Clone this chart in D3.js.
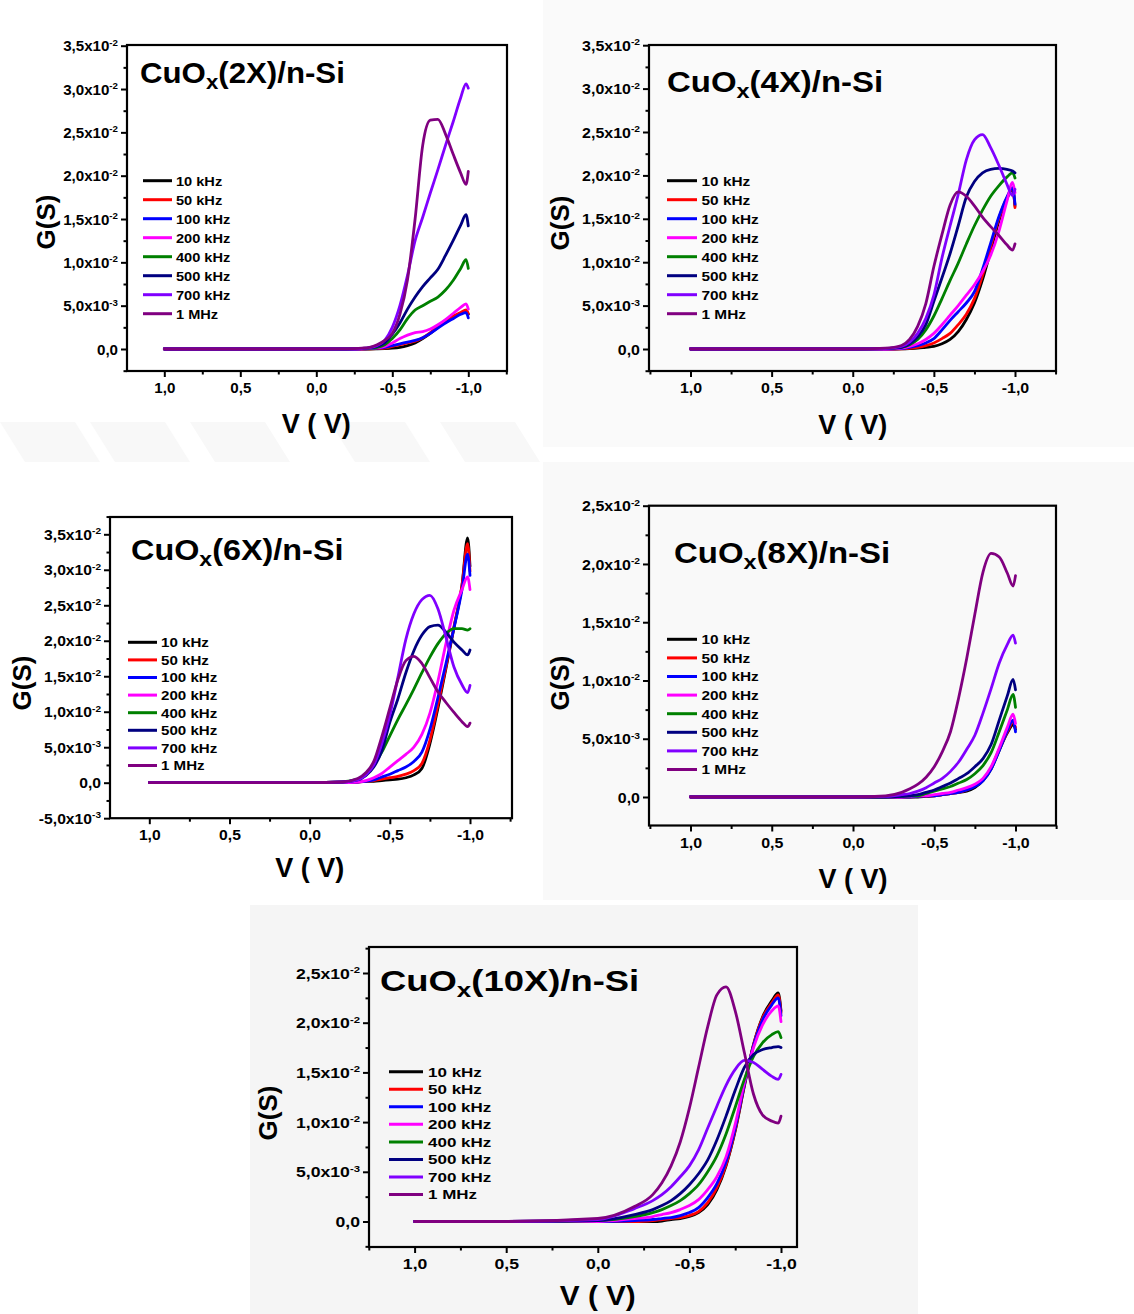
<!DOCTYPE html>
<html>
<head>
<meta charset="utf-8">
<script src="https://cdn.jsdelivr.net/npm/d3@7"></script>
<style>
  html, body { margin: 0; padding: 0; background: #ffffff; }
  svg { display: block; }
  text { font-family: "Liberation Sans", Arial, sans-serif; font-weight: bold; fill: #000; }
</style>
</head>
<body>
<svg id="chart" width="1134" height="1314"></svg>
<script>
// ---------------- DATA ----------------
const voltage = [1.0, 0.5, 0.0, -0.2, -0.3, -0.35, -0.4, -0.45, -0.5, -0.55, -0.6, -0.65, -0.7, -0.75, -0.8, -0.85, -0.9, -0.95, -0.985, -1.0];
const frequencies = ["10 kHz", "50 kHz", "100 kHz", "200 kHz", "400 kHz", "500 kHz", "700 kHz", "1 MHz"];
const seriesColors = ["#000000", "#ff0000", "#0000ff", "#ff00ff", "#008000", "#000080", "#8000ff", "#800080"];
const sampleNames = ["CuO|x|(2X)/n-Si", "CuO|x|(4X)/n-Si", "CuO|x|(6X)/n-Si", "CuO|x|(8X)/n-Si", "CuO|x|(10X)/n-Si"];
const xTickValues = [1.0, 0.5, 0.0, -0.5, -1.0];
const xTickLabels = ["1,0", "0,5", "0,0", "-0,5", "-1,0"];
const xMinorTicks = [1.25, 0.75, 0.25, -0.25, -0.75, -1.25];

// G (S) for each frequency, in the order of `frequencies`
const g2X = [
  [0,0,0,0,0,0,0.00002,0.00005,0.0001,0.0002,0.0004,0.0007,0.0012,0.0018,0.0025,0.0032,0.0037,0.0041,0.0044,0.0040],
  [0,0,0,0,0,0.00002,0.00005,0.0001,0.0003,0.0005,0.0007,0.0009,0.0013,0.0019,0.0026,0.0033,0.0038,0.0042,0.0045,0.0041],
  [0,0,0,0,0.00002,0.00005,0.0001,0.0002,0.0004,0.0006,0.0008,0.0010,0.0013,0.0018,0.0024,0.0030,0.0035,0.0040,0.0042,0.0036],
  [0,0,0,0,0.00003,0.00008,0.00015,0.0003,0.0007,0.0012,0.0016,0.0019,0.0020,0.0023,0.0028,0.0034,0.0041,0.0048,0.0052,0.0046],
  [0,0,0,0,0.00005,0.0001,0.0002,0.0005,0.0012,0.0022,0.0035,0.0045,0.0050,0.0055,0.0060,0.0068,0.0079,0.0093,0.0103,0.0093],
  [0,0,0,0,0.00005,0.00012,0.0003,0.0007,0.0017,0.0030,0.0046,0.0060,0.0072,0.0082,0.0092,0.0108,0.0125,0.0143,0.0155,0.0142],
  [0,0,0,0,0.00006,0.00015,0.0004,0.0010,0.0025,0.0050,0.0085,0.0125,0.0152,0.0180,0.0207,0.0235,0.0262,0.0290,0.0306,0.0301],
  [0,0,0,0.00002,0.0001,0.0002,0.0005,0.0010,0.0018,0.0040,0.0080,0.0150,0.0235,0.0264,0.0265,0.0248,0.0225,0.0203,0.0190,0.0205]
];
const g4X = [
  [0,0,0,0,0.00002,0.00005,0.0001,0.0002,0.0003,0.0006,0.0011,0.0020,0.0034,0.0053,0.0080,0.0113,0.0147,0.0173,0.0184,0.0165],
  [0,0,0,0,0.00003,0.00008,0.0002,0.0004,0.0007,0.0012,0.0018,0.0028,0.0040,0.0058,0.0085,0.0118,0.0150,0.0174,0.0185,0.0163],
  [0,0,0,0,0.00005,0.0002,0.0004,0.0007,0.0012,0.0022,0.0033,0.0043,0.0053,0.0066,0.0092,0.0122,0.0152,0.0175,0.0186,0.0167],
  [0,0,0,0,0.0001,0.0003,0.0006,0.0011,0.0018,0.0028,0.0039,0.0050,0.0062,0.0074,0.0089,0.0108,0.0135,0.0170,0.0192,0.0180],
  [0,0,0,0.00005,0.0002,0.0005,0.0011,0.0022,0.0038,0.0058,0.0079,0.0099,0.0121,0.0142,0.0160,0.0176,0.0188,0.0198,0.0203,0.0197],
  [0,0,0,0.00005,0.0002,0.0006,0.0014,0.0028,0.0055,0.0082,0.0110,0.0142,0.0175,0.0193,0.0203,0.0207,0.0208,0.0207,0.0205,0.0203],
  [0,0,0,0.00005,0.0003,0.0008,0.0018,0.0035,0.0062,0.0105,0.0142,0.0178,0.0218,0.0241,0.0247,0.0232,0.0212,0.0190,0.0177,0.0184],
  [0,0,0,0.0001,0.0004,0.0011,0.0026,0.0052,0.0095,0.0132,0.0166,0.0181,0.0176,0.0165,0.0152,0.0141,0.0131,0.0120,0.0114,0.0121]
];
const g6X = [
  [0,0,0,0,0.0001,0.0002,0.0002,0.0003,0.0004,0.0005,0.0007,0.0011,0.0020,0.0055,0.0105,0.0161,0.0218,0.0278,0.0345,0.0305],
  [0,0,0,0,0.0001,0.0002,0.0003,0.0005,0.0007,0.0009,0.0012,0.0017,0.0027,0.0060,0.0110,0.0163,0.0220,0.0278,0.0337,0.0298],
  [0,0,0,0,0.0001,0.0002,0.0004,0.0008,0.0012,0.0017,0.0022,0.0030,0.0043,0.0075,0.0120,0.0168,0.0218,0.0272,0.0322,0.0292],
  [0,0,0,0,0.0001,0.0003,0.0007,0.0013,0.0022,0.0031,0.0040,0.0050,0.0068,0.0098,0.0143,0.0196,0.0243,0.0272,0.0290,0.0272],
  [0,0,0,0.0001,0.0005,0.0012,0.0025,0.0043,0.0066,0.0089,0.0110,0.0132,0.0155,0.0177,0.0196,0.0210,0.0217,0.0217,0.0215,0.0217],
  [0,0,0,0.0001,0.0004,0.0010,0.0022,0.0045,0.0085,0.0118,0.0155,0.0186,0.0208,0.0220,0.0222,0.0212,0.0198,0.0187,0.0180,0.0187],
  [0,0,0,0.0001,0.0004,0.0011,0.0025,0.0055,0.0095,0.0148,0.0202,0.0238,0.0258,0.0264,0.0245,0.0205,0.0163,0.0138,0.0127,0.0137],
  [0,0,0,0.0001,0.0006,0.0014,0.0030,0.0065,0.0105,0.0145,0.0172,0.0178,0.0168,0.0148,0.0128,0.0113,0.0099,0.0086,0.0079,0.0084]
];
const g8X = [
  [0,0,0,0,0,0,0,0.00005,0.0001,0.0002,0.0003,0.0004,0.0005,0.0008,0.0014,0.0024,0.0040,0.0055,0.0062,0.0058],
  [0,0,0,0,0,0,0.00005,0.0001,0.0001,0.0002,0.0003,0.0004,0.0006,0.0010,0.0015,0.0025,0.0041,0.0056,0.0064,0.0060],
  [0,0,0,0,0,0,0.00005,0.0001,0.0001,0.0002,0.0003,0.0004,0.0006,0.0009,0.0014,0.0024,0.0040,0.0057,0.0066,0.0056],
  [0,0,0,0,0,0.00005,0.0001,0.0001,0.0002,0.0003,0.0004,0.0006,0.0008,0.0011,0.0016,0.0026,0.0042,0.0060,0.0071,0.0063],
  [0,0,0,0,0.00005,0.0001,0.0001,0.0003,0.0005,0.0007,0.0009,0.0012,0.0015,0.0020,0.0027,0.0038,0.0056,0.0075,0.0088,0.0077],
  [0,0,0,0,0.00005,0.0001,0.0002,0.0004,0.0006,0.0009,0.0012,0.0016,0.0020,0.0026,0.0033,0.0045,0.0066,0.0087,0.0101,0.0092],
  [0,0,0,0.00005,0.0002,0.0003,0.0005,0.0008,0.0012,0.0016,0.0022,0.0030,0.0041,0.0053,0.0072,0.0093,0.0115,0.0131,0.0139,0.0132],
  [0,0,0,0.0001,0.0004,0.0007,0.0011,0.0017,0.0026,0.0039,0.0056,0.0085,0.0119,0.0157,0.0193,0.0209,0.0206,0.0192,0.0181,0.0190]
];
const g10X = [
  [0,0,0,0,0,0.00005,0.0002,0.0003,0.0005,0.0009,0.0017,0.0032,0.0056,0.0091,0.0136,0.0178,0.0206,0.0222,0.0230,0.0212],
  [0,0,0,0,0.0001,0.0002,0.0003,0.0004,0.0006,0.0010,0.0019,0.0034,0.0057,0.0092,0.0137,0.0178,0.0205,0.0220,0.0228,0.0210],
  [0,0,0,0.0001,0.0002,0.0003,0.0004,0.0006,0.0009,0.0014,0.0024,0.0038,0.0060,0.0094,0.0138,0.0177,0.0203,0.0218,0.0225,0.0207],
  [0,0,0,0.0003,0.0005,0.0007,0.0009,0.0012,0.0016,0.0022,0.0032,0.0045,0.0065,0.0098,0.0140,0.0175,0.0198,0.0212,0.0217,0.0201],
  [0,0,0.0001,0.0005,0.0009,0.0012,0.0016,0.0021,0.0028,0.0037,0.0050,0.0066,0.0088,0.0115,0.0143,0.0166,0.0180,0.0188,0.0191,0.0185],
  [0,0,0.0001,0.0007,0.0012,0.0016,0.0021,0.0028,0.0037,0.0048,0.0062,0.0082,0.0106,0.0132,0.0155,0.0168,0.0173,0.0175,0.0176,0.0175],
  [0,0,0.0002,0.0013,0.0021,0.0027,0.0035,0.0045,0.0056,0.0072,0.0094,0.0116,0.0137,0.0153,0.0162,0.0160,0.0153,0.0146,0.0143,0.0148],
  [0,0,0.0003,0.0015,0.0027,0.0039,0.0056,0.0080,0.0114,0.0155,0.0196,0.0228,0.0236,0.0212,0.0170,0.0128,0.0107,0.0101,0.0099,0.0106]
];

// ---------------- LAYOUT ----------------
const layouts = [
  { data: g2X, bg: null, xPix: [164.3, 468.3], yRef: [0.035, 45.7], y0: 349, frame: [127, 507, 45, 371],
    yMajor: [0, 0.035], fx: 1.08, title: [140, 82.5], legend: [143, 172, 176, 180.7, 19.0], gs: [46, 222], vv: 433 },
  { data: g4X, bg: [543, 0, 591, 447, "#fafafa"], xPix: [690.5, 1015], yRef: [0.035, 45.2], y0: 349, frame: [649, 1056, 45, 371],
    yMajor: [0, 0.035], fx: 1.14, title: [667, 91.5], legend: [667, 697, 701.5, 180.7, 19.0], gs: [560, 223], vv: 434 },
  { data: g6X, bg: null, xPix: [149.3, 470], yRef: [0.035, 534.3], y0: 782.7, frame: [110, 512, 517, 818.2],
    yMajor: [-0.005, 0.035], fx: 1.12, title: [131, 560], legend: [128, 157, 161, 642.3, 17.6], gs: [22, 683], vv: 877 },
  { data: g8X, bg: [543, 462, 591, 438, "#f9f9f9"], xPix: [690.5, 1015.5], yRef: [0.025, 505.7], y0: 797, frame: [649, 1056, 505.7, 825.5],
    yMajor: [0, 0.025], fx: 1.14, title: [674, 562.5], legend: [667, 697, 701.5, 639.3, 18.6], gs: [560, 683], vv: 888 },
  { data: g10X, bg: [250, 905, 668, 409, "#f5f5f5"], xPix: [414.6, 781], yRef: [0.025, 973], y0: 1221.5, frame: [369, 797, 947, 1247],
    yMajor: [0, 0.025], fx: 1.26, title: [380, 990.5], legend: [389, 423, 428, 1071.7, 17.55], gs: [268, 1113], vv: 1305 }
];

const svg = d3.select("#chart");

// very faint watermark bands
const wm = svg.append("g").attr("fill", "#f8f8f8");
[0, 90, 190, 330, 440].forEach(x0 => {
  wm.append("path").attr("d", `M${x0},422 L${x0 + 75},422 L${x0 + 100},462 L${x0 + 25},462 Z`);
});

function yLabelParts(v) {
  const r = Math.round(v * 1e6) / 1e6;
  if (r === 0) return ["0,0", null];
  const e = Math.floor(Math.log10(Math.abs(r)) + 1e-9);
  const m = (r / Math.pow(10, e)).toFixed(1).replace(".", ",");
  return [m + "x10", String(e)];
}

layouts.forEach((L, pi) => {
  if (L.bg) svg.append("rect").attr("x", L.bg[0]).attr("y", L.bg[1]).attr("width", L.bg[2]).attr("height", L.bg[3]).attr("fill", L.bg[4]);
  const g = svg.append("g");
  const [fl, fr, ft, fb] = L.frame;
  const x = d3.scaleLinear().domain([1, -1]).range(L.xPix);
  const y = d3.scaleLinear().domain([0, L.yRef[0]]).range([L.y0, L.yRef[1]]);

  // y axis
  const yMaj = d3.range(Math.round(L.yMajor[0] / 0.005), Math.round(L.yMajor[1] / 0.005) + 1).map(k => k * 0.005);
  const yMin = [];
  for (let k = -4; k <= 20; k++) {
    const v = k * 0.0025;
    const p = y(v);
    if (k % 2 !== 0 && p >= ft - 0.5 && p <= fb + 0.5) yMin.push(v);
  }
  const yAxisG = g.append("g").attr("transform", `translate(${fl},0)`)
    .call(d3.axisLeft(y).tickValues(yMaj).tickSize(6).tickFormat(""));
  g.append("g").attr("transform", `translate(${fl},0)`)
    .call(d3.axisLeft(y).tickValues(yMin).tickSize(3.5).tickFormat(""));
  yAxisG.selectAll(".tick").each(function (v) {
    const parts = yLabelParts(v);
    const t = d3.select(this).append("text")
      .attr("text-anchor", "end")
      .attr("transform", `translate(-9,0) scale(${L.fx},1)`)
      .attr("dy", "0.36em")
      .style("font-size", "14px");
    t.append("tspan").text(parts[0]);
    if (parts[1]) t.append("tspan").attr("dy", "-0.62em").style("font-size", "9px").text(parts[1]);
  });

  // x axis
  const xMinVis = xMinorTicks.filter(v => x(v) >= fl - 0.5 && x(v) <= fr + 0.5);
  const xAxisG = g.append("g").attr("transform", `translate(0,${fb})`)
    .call(d3.axisBottom(x).tickValues(xTickValues).tickSize(6).tickFormat(""));
  g.append("g").attr("transform", `translate(0,${fb})`)
    .call(d3.axisBottom(x).tickValues(xMinVis).tickSize(3.5).tickFormat(""));
  xAxisG.selectAll(".tick").each(function (v, i) {
    d3.select(this).append("text")
      .attr("text-anchor", "middle")
      .attr("transform", `translate(0,22) scale(${L.fx},1)`)
      .style("font-size", "14px")
      .text(xTickLabels[i]);
  });
  g.selectAll(".domain").remove();
  g.selectAll(".tick line").attr("stroke", "#000").attr("stroke-width", 2);

  // frame
  g.append("rect").attr("x", fl).attr("y", ft).attr("width", fr - fl).attr("height", fb - ft)
    .attr("fill", "none").attr("stroke", "#000").attr("stroke-width", 2.2);

  // curves
  const line = d3.line().x((d, i) => x(voltage[i])).y(d => y(d)).curve(d3.curveMonotoneX);
  L.data.forEach((vals, si) => {
    g.append("path").datum(vals).attr("d", line)
      .attr("fill", "none").attr("stroke", seriesColors[si]).attr("stroke-width", 2.8)
      .attr("stroke-linejoin", "round").attr("stroke-linecap", "round");
  });

  // legend
  const [lx0, lx1, tx, ly0, ldy] = L.legend;
  frequencies.forEach((f, si) => {
    const yy = ly0 + si * ldy;
    g.append("line").attr("x1", lx0).attr("x2", lx1).attr("y1", yy).attr("y2", yy)
      .attr("stroke", seriesColors[si]).attr("stroke-width", 3);
    g.append("text").attr("transform", `translate(${tx},${yy}) scale(${L.fx},1)`)
      .attr("dy", "0.36em").style("font-size", "13.5px").text(f);
  });

  // title
  const tp = sampleNames[pi].split("|");
  const tt = g.append("text").attr("transform", `translate(${L.title[0]},${L.title[1]}) scale(${L.fx * 0.98},1)`)
    .style("font-size", "29.5px");
  tt.append("tspan").text(tp[0]);
  tt.append("tspan").attr("dy", 6).style("font-size", "21px").text(tp[1]);
  tt.append("tspan").attr("dy", -6).text(tp[2]);

  // axis titles
  g.append("text").attr("transform", `translate(${L.gs[0]},${L.gs[1]}) rotate(-90)`)
    .attr("text-anchor", "middle").attr("dy", "0.36em").style("font-size", "26px").text("G(S)");
  g.append("text").attr("transform", `translate(${x(0)},${L.vv}) scale(${pi === 4 ? 1.1 : 1},1)`)
    .attr("text-anchor", "middle").style("font-size", "27px").text("V ( V)");
});
</script>
</body>
</html>
